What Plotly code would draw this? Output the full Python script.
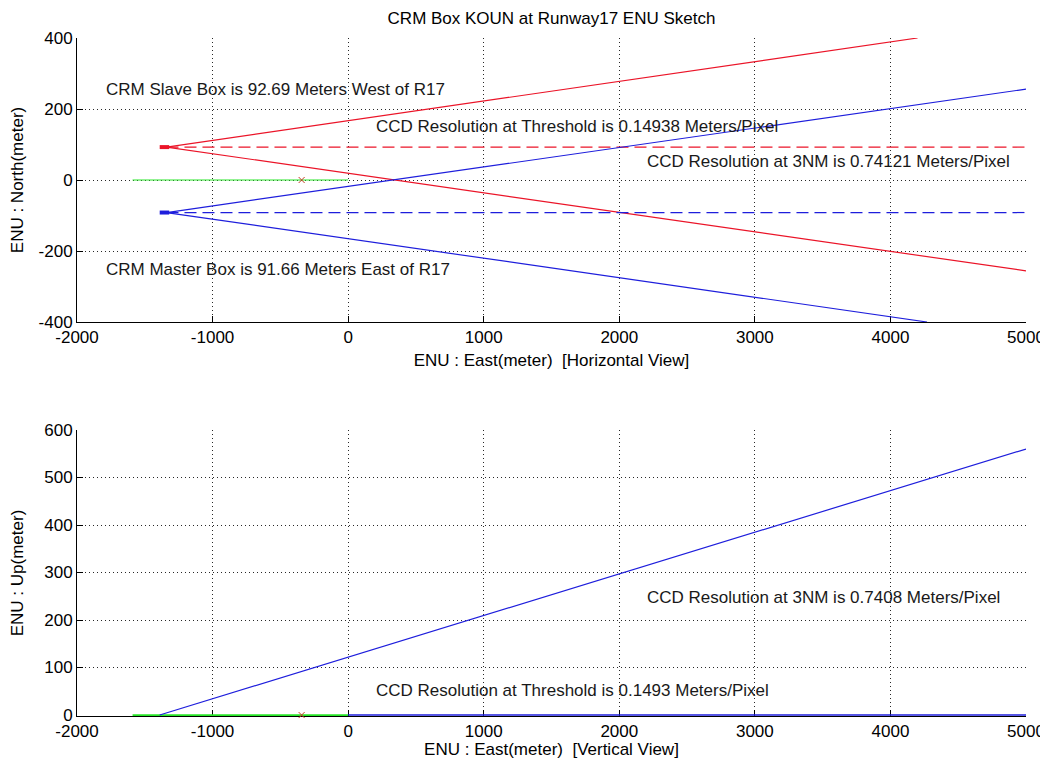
import plotly.graph_objects as go

# ---- data (meters, ENU) ----
slave_x = [-1340, 4200]          # red upper boundary
slave_y_up = [92.69, 400]
slave_low_x = [-1340, 5000]
slave_low_y = [92.69, -256]
slave_axis_x = [-1340, 5000]
slave_axis_y = [92.69, 92.69]

master_up_x = [-1340, 5000]
master_up_y = [-91.66, 256]
master_low_x = [-1340, 4270]
master_low_y = [-91.66, -400]
master_axis_x = [-1340, 5000]
master_axis_y = [-91.66, -91.66]

box_red_x = [-1390, -1320]
box_red_y = [92.69, 92.69]
box_blue_x = [-1390, -1320]
box_blue_y = [-91.66, -91.66]

runway_x = [-1590, 0]
runway_y = [0, 0]
radar_x = [-343]
radar_y = [0]

vert_beam_x = [-1390, 5000]
vert_beam_y = [0, 560]
vert_ground_x = [0, 5000]
vert_ground_y = [0, 0]

x_ticks = [-2000, -1000, 0, 1000, 2000, 3000, 4000, 5000]
y_ticks_top = [-400, -200, 0, 200, 400]
y_ticks_bot = [0, 100, 200, 300, 400, 500, 600]

RED = "rgb(235,20,40)"
BLUE = "rgb(30,30,220)"
GREEN = "rgb(40,230,40)"
FONT = "Liberation Sans, Arial, sans-serif"
FS = 17

# the page body has an 8px margin; figure is sized so the plot lands where the reference has it
W, H = 1040, 751
B = 43
PLOT_H = H - 30 - B
TOP_LO = 1 - 284 / PLOT_H
BOT_HI = 286 / PLOT_H

fig = go.Figure()

def line(x, y, color, xa, ya, dash="solid", width=1.2):
    fig.add_trace(go.Scatter(x=x, y=y, mode="lines", line=dict(color=color, width=width, dash=dash),
                             xaxis=xa, yaxis=ya, showlegend=False, hoverinfo="skip", cliponaxis=False))

# top plot
line(runway_x, runway_y, GREEN, "x", "y")
line(slave_x, slave_y_up, RED, "x", "y")
line(slave_low_x, slave_low_y, RED, "x", "y")
line(slave_axis_x, slave_axis_y, RED, "x", "y", dash="12px,6px")
line(master_up_x, master_up_y, BLUE, "x", "y")
line(master_low_x, master_low_y, BLUE, "x", "y")
line(master_axis_x, master_axis_y, BLUE, "x", "y", dash="12px,6px")
line(box_red_x, box_red_y, RED, "x", "y", width=4)
line(box_blue_x, box_blue_y, BLUE, "x", "y", width=4)
fig.add_trace(go.Scatter(x=radar_x, y=radar_y, mode="markers",
                         marker=dict(symbol="x-thin", size=6, line=dict(color="rgb(200,60,40)", width=1)),
                         xaxis="x", yaxis="y", showlegend=False))

# bottom plot
line(runway_x, runway_y, GREEN, "x2", "y2", width=1.8)
line(vert_ground_x, vert_ground_y, BLUE, "x2", "y2", width=1.6)
line(vert_beam_x, vert_beam_y, BLUE, "x2", "y2")
fig.add_trace(go.Scatter(x=radar_x, y=radar_y, mode="markers",
                         marker=dict(symbol="x-thin", size=6, line=dict(color="rgb(200,60,40)", width=1)),
                         xaxis="x2", yaxis="y2", showlegend=False, cliponaxis=False))

axis_common = dict(showline=True, linecolor="black", linewidth=1, ticks="inside", ticklen=6,
                   tickcolor="black", showgrid=True, gridcolor="rgb(40,40,40)", griddash="1px,3px",
                   gridwidth=1, zeroline=False, automargin=False, layer="below traces",
                   tickfont=dict(family=FONT, size=FS, color="black"),
                   title_font=dict(family=FONT, size=FS, color="black"), mirror=False)

def tt(vals):
    return [str(v) for v in vals]

fig.update_layout(
    width=W, height=H,
    paper_bgcolor="white", plot_bgcolor="white",
    margin=dict(l=69, r=W - 69 - 949, t=30, b=B),
    title=dict(text="CRM Box KOUN at Runway17 ENU Sketch", x=0.5, xref="paper", xanchor="center",
               y=1 - 10 / H, yanchor="middle", font=dict(family=FONT, size=FS, color="black")),
    xaxis=dict(domain=[0, 1], range=[-2000, 5000], tickvals=x_ticks, ticktext=tt(x_ticks), anchor="y",
               title=dict(text="ENU : East(meter)  [Horizontal View]", standoff=7), **axis_common),
    yaxis=dict(domain=[TOP_LO, 1], range=[-400, 400], tickvals=y_ticks_top, ticktext=tt(y_ticks_top),
               anchor="x", title=dict(text="ENU : North(meter)", standoff=10), **axis_common),
    xaxis2=dict(domain=[0, 1], range=[-2000, 5000], tickvals=x_ticks, ticktext=tt(x_ticks), anchor="y2",
                title=dict(text="ENU : East(meter)  [Vertical View]", standoff=0), **axis_common),
    yaxis2=dict(domain=[0, BOT_HI], range=[-2, 600], tickvals=y_ticks_bot, ticktext=tt(y_ticks_bot),
                anchor="x2", title=dict(text="ENU : Up(meter)", standoff=18), **axis_common),
)

notes = [
    ("x", "y", -1800, 254, "CRM Slave Box is 92.69 Meters West of R17"),
    ("x", "y", 189, 150, "CCD Resolution at Threshold is 0.14938 Meters/Pixel"),
    ("x", "y", 2187, 51, "CCD Resolution at 3NM is 0.74121 Meters/Pixel"),
    ("x", "y", -1800, -251, "CRM Master Box is 91.66 Meters East of R17"),
    ("x2", "y2", 2187, 247, "CCD Resolution at 3NM is 0.7408 Meters/Pixel"),
    ("x2", "y2", 189, 52, "CCD Resolution at Threshold is 0.1493 Meters/Pixel"),
]
for xr, yr, xv, yv, txt in notes:
    fig.add_annotation(x=xv, y=yv, xref=xr, yref=yr, text=txt, showarrow=False,
                       xanchor="left", yanchor="middle",
                       font=dict(family=FONT, size=FS, color="rgb(25,25,25)"))

fig.write_html("out.html", post_script="document.body.style.overflow='hidden';")
